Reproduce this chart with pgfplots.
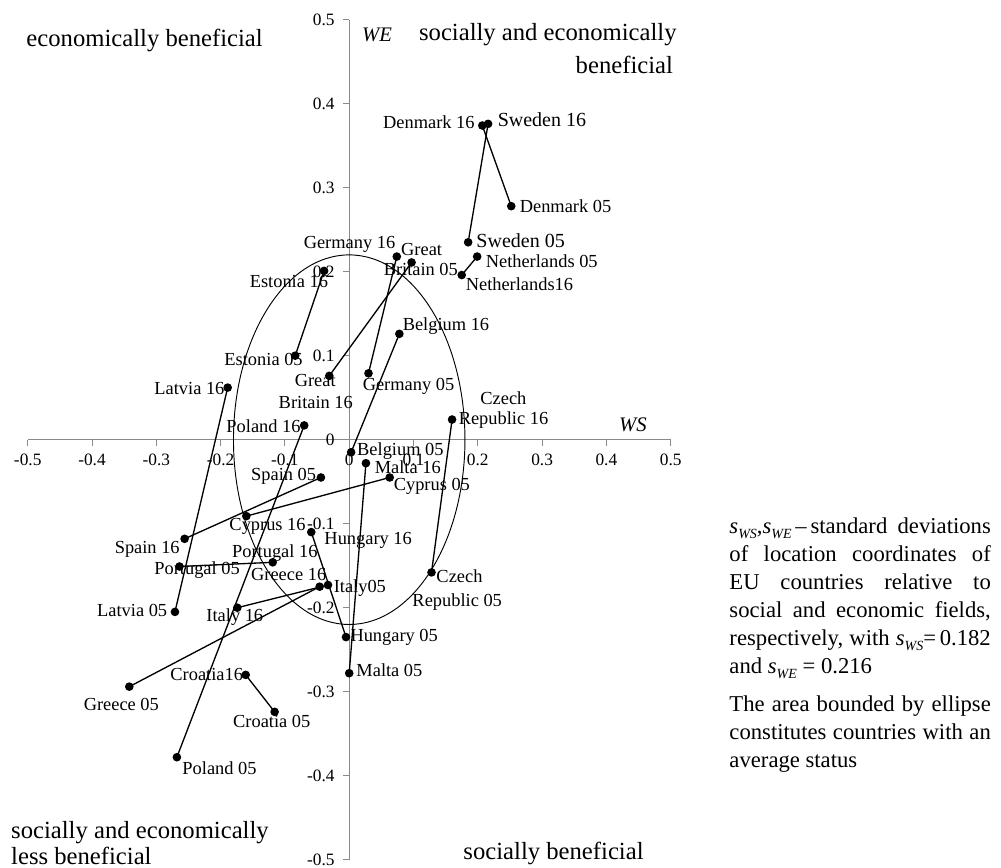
\documentclass[border=0pt]{standalone}
\usepackage{fontspec}
\setmainfont{Liberation Serif}
\usepackage{pgfplots}
\pgfplotsset{compat=1.18}
\definecolor{axisgray}{RGB}{137,137,137}
\newcommand{\lab}{\fontsize{13.8}{15}\selectfont}
\newcommand{\labbig}{\fontsize{15}{17}\selectfont}
\newcommand{\quadf}{\fontsize{18.5}{21}\selectfont}
\newcommand{\tickf}{\fontsize{13}{15}\selectfont}
\newcommand{\notef}{\fontsize{17}{21}\selectfont}
\newcommand{\sub}[1]{\raisebox{-0.45ex}{\fontsize{10.5}{10.5}\selectfont\itshape #1}}
\newcommand{\nl}[1]{\noindent\makebox[196pt][s]{#1}\par}
\begin{document}
\begin{tikzpicture}
\path[use as bounding box] (0,0) rectangle (750.75pt,651pt);
\begin{axis}[
  at={(20.78pt,6.23pt)}, anchor=south west,
  scale only axis, width=482.25pt, height=630pt,
  xmin=-0.5, xmax=0.5, ymin=-0.5, ymax=0.5,
  axis lines=middle,
  axis line style={draw=axisgray, line width=0.75pt, -},
  xtick={-0.5,-0.4,-0.3,-0.2,-0.1,0,0.1,0.2,0.3,0.4,0.5},
  ytick={-0.5,-0.4,-0.3,-0.2,-0.1,0,0.1,0.2,0.3,0.4,0.5},
  xticklabels={-0.5,-0.4,-0.3,-0.2,-0.1,0,0.1,0.2,0.3,0.4,0.5},
  yticklabels={-0.5,-0.4,-0.3,-0.2,-0.1,0,0.1,0.2,0.3,0.4,0.5},
  hide obscured x ticks=false, hide obscured y ticks=false,
  tick align=outside, major tick length=4.5pt,
  tick style={draw=axisgray, line width=0.75pt},
  ticklabel style={font=\tickf},
  xticklabel style={yshift=-3pt},
  yticklabel style={xshift=-3pt},
  clip=false,
  every axis plot post/.append style={black, solid, line width=1pt, mark=*, mark size=2.7pt, mark options={solid, fill=black, draw=black}},
]
\draw[black, line width=0.7pt] (axis cs:0,0) ellipse [x radius=0.18, y radius=0.22];

% Denmark 05 -> 16
\addplot coordinates {(0.252,0.278) (0.207,0.374)};
% Sweden
\addplot coordinates {(0.185,0.235) (0.216,0.376)};
% Netherlands
\addplot coordinates {(0.199,0.218) (0.175,0.196)};
% Germany
\addplot coordinates {(0.030,0.079) (0.074,0.218)};
% Great Britain
\addplot coordinates {(0.097,0.211) (-0.031,0.076)};
% Estonia
\addplot coordinates {(-0.084,0.100) (-0.039,0.201)};
% Belgium
\addplot coordinates {(0.003,-0.015) (0.078,0.126)};
% Poland
\addplot coordinates {(-0.268,-0.378) (-0.070,0.017)};
% Latvia
\addplot coordinates {(-0.271,-0.205) (-0.189,0.062)};
% Spain
\addplot coordinates {(-0.044,-0.045) (-0.256,-0.118)};
% Malta
\addplot coordinates {(0.000,-0.278) (0.026,-0.028)};
% Cyprus
\addplot coordinates {(0.063,-0.045) (-0.160,-0.091)};
% Czech Republic
\addplot coordinates {(0.128,-0.158) (0.160,0.024)};
% Hungary
\addplot coordinates {(-0.005,-0.235) (-0.059,-0.110)};
% Portugal
\addplot coordinates {(-0.264,-0.151) (-0.119,-0.146)};
% Greece
\addplot coordinates {(-0.342,-0.294) (-0.046,-0.175)};
% Italy
\addplot coordinates {(-0.033,-0.173) (-0.174,-0.200)};
% Croatia
\addplot coordinates {(-0.116,-0.324) (-0.161,-0.280)};

% country labels
\begin{scope}[every node/.style={anchor=base west, inner sep=0pt, font=\lab}]
\node at (axis cs:0.0524,0.3705) {Denmark 16};
\node[font=\labbig] at (axis cs:0.2306,0.3732) {Sweden 16};
\node at (axis cs:0.2649,0.2700) {Denmark 05};
\node[font=\labbig] at (axis cs:0.1975,0.2288) {Sweden 05};
\node at (axis cs:0.2120,0.2045) {Netherlands 05};
\node at (axis cs:0.1809,0.1771) {Netherlands16};
\node at (axis cs:0.0804,0.2196) {Great};
\node at (axis cs:0.0533,0.1950) {Britain 05};
\node at (axis cs:-0.0711,0.2276) {Germany 16};
\node at (axis cs:-0.155,0.1812) {Estonia 16};
\node at (axis cs:-0.1944,0.0887) {Estonia 05};
\node at (axis cs:-0.0851,0.0629) {Great};
\node at (axis cs:-0.110,0.0371) {Britain 16};
\node at (axis cs:0.0829,0.1295) {Belgium 16};
\node at (axis cs:0.0207,0.0589) {Germany 05};
\node at (axis cs:-0.1913,0.0086) {Poland 16};
\node at (axis cs:-0.3033,0.0533) {Latvia 16};
\node at (axis cs:-0.1529,-0.0482) {Spain 05};
\node at (axis cs:0.012,-0.0185) {Belgium 05};
\node at (axis cs:0.0394,-0.0402) {Malta 16};
\node at (axis cs:0.0689,-0.0601) {Cyprus 05};
\node at (axis cs:0.2037,0.0423) {Czech};
\node at (axis cs:0.170,0.0185) {Republic 16};
\node at (axis cs:0.1353,-0.1696) {Czech};
\node at (axis cs:0.0980,-0.198) {Republic 05};
\node at (axis cs:-0.1866,-0.1086) {Cyprus 16};
\node at (axis cs:-0.0389,-0.1248) {Hungary 16};
\node at (axis cs:-0.365,-0.1355) {Spain 16};
\node at (axis cs:-0.1825,-0.1407) {Portugal 16};
\node at (axis cs:-0.3034,-0.1605) {Portugal 05};
\node at (axis cs:-0.1529,-0.1673) {Greece 16};
\node at (axis cs:-0.0244,-0.1824) {Italy05};
\node at (axis cs:-0.3924,-0.211) {Latvia 05};
\node at (axis cs:-0.2224,-0.2169) {Italy 16};
\node at (axis cs:0.0016,-0.2407) {Hungary 05};
\node at (axis cs:0.0109,-0.2824) {Malta 05};
\node at (axis cs:-0.2784,-0.2871) {Croatia16};
\node at (axis cs:-0.4132,-0.322) {Greece 05};
\node at (axis cs:-0.1809,-0.3426) {Croatia 05};
\node at (axis cs:-0.2597,-0.3982) {Poland 05};
\end{scope}

% quadrant texts
\begin{scope}[every node/.style={inner sep=0pt, font=\quadf}]
\node[anchor=base west] at (axis cs:-0.5023,0.4685) {economically beneficial};
\node[anchor=base east] at (axis cs:0.5096,0.4756) {socially and economically};
\node[anchor=base east] at (axis cs:0.5039,0.4357) {beneficial};
\node[anchor=base west] at (axis cs:-0.5261,-0.4744) {socially and economically};
\node[anchor=base west] at (axis cs:-0.5261,-0.5054) {less beneficial};
\node[anchor=base west] at (axis cs:0.1773,-0.4994) {socially beneficial};
\node[anchor=base west, font=\fontsize{15.5}{17}\selectfont\itshape] at (axis cs:0.0198,0.4736) {WE};
\node[anchor=base west, font=\fontsize{15.5}{17}\selectfont\itshape] at (axis cs:0.4194,0.0093) {WS};
\end{scope}

% note
\node[anchor=north west, inner sep=0pt] at (axis cs:0.591,-0.0927) {\parbox[t]{196pt}{\notef
\nl{\textit{s}\sub{WS},\textit{s}\sub{WE}\,--\,standard deviations}
\nl{of location coordinates of}
\nl{EU countries relative to}
\nl{social and economic fields,}
\nl{respectively, with \textit{s}\sub{WS}=\,0.182}
\noindent and \textit{s}\sub{WE} = 0.216\par
\vspace{7.5pt}
\nl{The area bounded by ellipse}
\nl{constitutes countries with an}
\noindent average status\par}};
\end{axis}
\end{tikzpicture}
\end{document}
